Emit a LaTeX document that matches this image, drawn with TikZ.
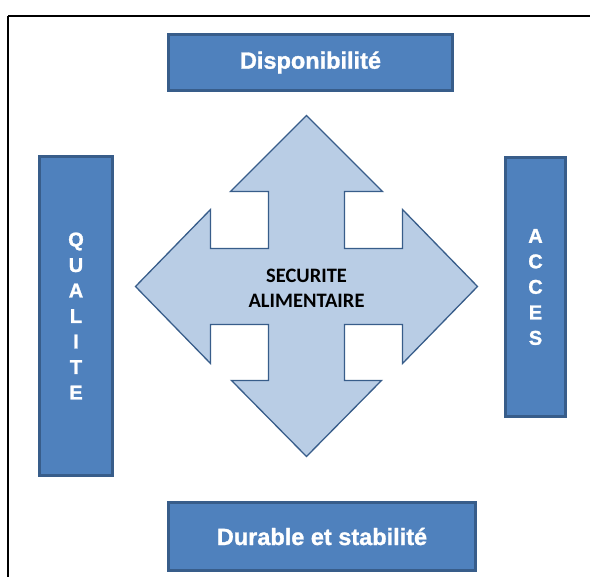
\documentclass[tikz,border=0pt]{standalone}
\usepackage{fontspec}
\setmainfont{Liberation Sans}[FakeBold=1.2]
\newfontfamily\calibrifont{Carlito}
\usepackage{xcolor}
\usetikzlibrary{positioning}

\definecolor{boxblue}{HTML}{4F81BD}
\definecolor{boxedge}{HTML}{385D8A}
\definecolor{arrowfill}{HTML}{B9CDE5}

\begin{document}
\begin{tikzpicture}[x=1pt, y=-1pt,
        pillar/.style={draw=boxedge, line width=2.6pt, fill=boxblue, text=white,
            inner sep=0pt, font=\fontsize{23.5}{26}\selectfont\bfseries},
        column/.style={pillar, align=center, font=\fontsize{20}{25.5}\selectfont\bfseries},
        cross/.style={draw=boxedge, line width=1.3pt, fill=arrowfill, line join=miter}
    ]
        \useasboundingbox (0,0) rectangle (590,577);
        % outer frame, runs off the page on the right and bottom
        \draw[line width=1.8pt] (8,16) -- (8,600) (8,16) -- (600,16);

        % four-way arrow
        \coordinate (c) at (306.5,286.5);
        \draw[cross, shift={(c)}] (0,-171) -- (76,-95) -- (38,-95) -- (38,-38) -- (96,-38)
            -- (96,-77) -- (171,0) -- (96,77) -- (96,38) -- (38,38) -- (38,94)
            -- (75,94) -- (0,170) -- (-75,94) -- (-38,94) -- (-38,38) -- (-96,38)
            -- (-96,77) -- (-171,0) -- (-96,-77) -- (-96,-38) -- (-38,-38)
            -- (-38,-95) -- (-76,-95) -- cycle;
        \node[align=center, font=\calibrifont\fontsize{20.5}{25}\selectfont\bfseries] (secu) at (306.5,288)
            {SECURITE\\ALIMENTAIRE};

        % the four pillars
        \node[pillar, minimum width=284pt, minimum height=56pt] (dispo) at (310.5,62.5) {Disponibilit\'e};
        \node[pillar, minimum width=307pt, minimum height=68pt] (durable) at (322,536.5) {Durable et stabilit\'e};
        \node[column, minimum width=73pt, minimum height=319pt] (qualite) at (76,316) {Q\\U\\A\\L\\I\\T\\E};
        \node[column, minimum width=60pt, minimum height=259pt] (acces) at (535.5,287) {A\\C\\C\\E\\S};
    \end{tikzpicture}
\end{document}
